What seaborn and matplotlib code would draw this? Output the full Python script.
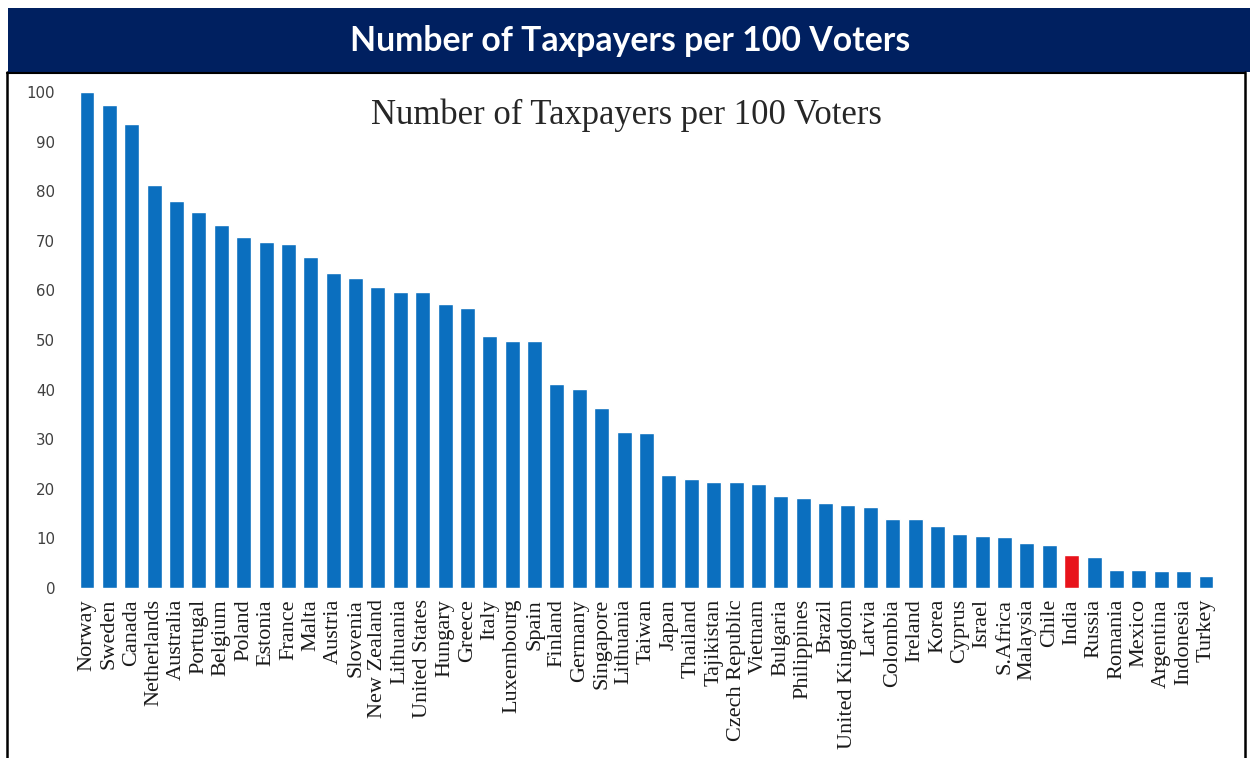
import numpy as np
import pandas as pd
import seaborn as sns
from matplotlib import pyplot as plt
from matplotlib.patches import Rectangle
from matplotlib.lines import Line2D

sns.set_style("white")
plt.rcParams['font.family'] = ['DejaVu Sans']
# -------------------------------------
countries = ["Norway","Sweden","Canada","Netherlands","Australia","Portugal","Belgium",
             "Poland","Estonia","France","Malta","Austria","Slovenia","New Zealand",
             "Lithuania","United States","Hungary","Greece","Italy","Luxembourg","Spain",
             "Finland","Germany","Singapore","Lithuania","Taiwan","Japan","Thailand",
             "Tajikistan","Czech Republic","Vietnam","Bulgaria","Philippines","Brazil",
             "United Kingdom","Latvia","Colombia","Ireland","Korea","Cyprus","Israel",
             "S.Africa","Malaysia","Chile","India","Russia","Romania","Mexico",
             "Argentina","Indonesia","Turkey"]
values = [100,97.4,93.5,81.2,78.1,75.8,73.2,70.8,69.7,69.3,66.7,63.5,62.4,60.6,
          59.7,59.7,57.3,56.5,50.8,49.7,49.7,41.2,40.1,36.3,31.5,31.2,22.8,22.0,
          21.3,21.3,21.0,18.6,18.2,17.1,16.7,16.3,14.0,14.0,12.4,10.9,10.5,
          10.2,9.0,8.6,6.7,6.3,3.6,3.6,3.4,3.4,2.5]
highlight = "India"
yticks = [0,10,20,30,40,50,60,70,80,90,100]
title = "Number of Taxpayers per 100 Voters"
# -------------------------------------
blue = "#0b6fbf"
red = "#e8131b"
navy = "#002060"

df = pd.DataFrame({"pos": np.arange(len(countries)),
                   "country": countries,
                   "value": values})
df["grp"] = np.where(df["country"] == highlight, "hl", "base")

fh = plt.figure(figsize=(12.5, 7.58), dpi=100)
W, H = 1250., 758.

# header band
fh.patches.append(Rectangle((8/W, 1-72/H), (W-8)/W, 64/H, transform=fh.transFigure,
                            facecolor=navy, edgecolor="none", zorder=0))
fh.text(630/W, 1-41/H, title, color="white", fontsize=24.3, fontweight="bold",
        family="Lato", ha="center", va="center")
# frame around the chart
fh.lines.append(Line2D([7/W, 7/W], [0, 1-72/H], transform=fh.transFigure, color="black", lw=1.8))
fh.lines.append(Line2D([1245/W, 1245/W], [0, 1-72/H], transform=fh.transFigure, color="black", lw=1.8))
fh.lines.append(Line2D([7/W, 1245/W], [1-72.5/H, 1-72.5/H], transform=fh.transFigure, color="black", lw=1.5))

ah = fh.add_axes([60/W, (H-588)/H, 1175/W, (588-80)/H])
sns.barplot(data=df, x="pos", y="value", hue="grp", palette={"base": blue, "hl": red},
            dodge=False, legend=False, width=0.67, saturation=1, ax=ah)

ah.set_xlim((60-87)/22.38, (1235-87)/22.38)
ah.set_ylim(0, (588-80)/4.96)
ah.set_yticks(yticks)
ah.set_yticklabels([str(v) for v in yticks], color="#404040", fontsize=10.8)
ah.set_xticks(df["pos"])
ah.set_xticklabels(countries, rotation=90, family="Liberation Serif", fontsize=16,
                   color="#1a1a1a")
ah.tick_params(axis="y", length=0, pad=3.5)
ah.tick_params(axis="x", length=0, pad=8)
ah.set_xlabel("")
ah.set_ylabel("")
for sp in ah.spines.values():
    sp.set_visible(False)

fh.text(626/W, 1-115/H, title, family="Liberation Serif", fontsize=24.9,
        color="#262626", ha="center", va="center")

fh.savefig("out.png", dpi=100)
